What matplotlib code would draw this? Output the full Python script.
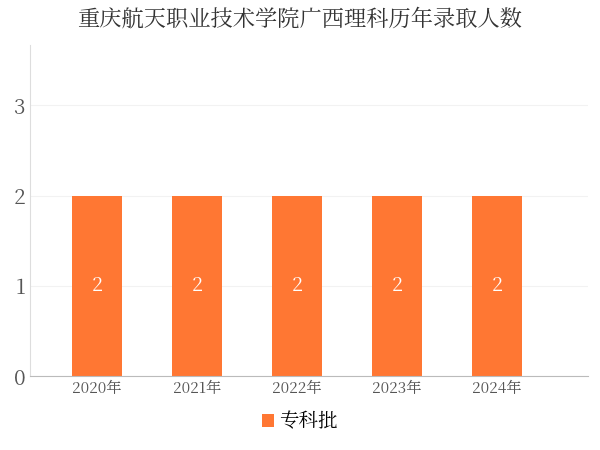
import matplotlib
matplotlib.use("Agg")
import matplotlib.pyplot as plt
from matplotlib import font_manager as fm

cjk = [f.name for f in fm.fontManager.ttflist if "CJK" in f.name]
pref = [n for n in cjk if "SC" in n] or cjk
plt.rcParams["font.family"] = "sans-serif"
plt.rcParams["font.sans-serif"] = (pref[:1] if pref else []) + ["Noto Sans CJK SC", "DejaVu Sans"]

categories = ["2020年", "2021年", "2022年", "2023年", "2024年"]
values = [2, 2, 2, 2, 2]
series_name = "专科批"
color = "#FF7733"

fig = plt.figure(figsize=(6, 4.5), dpi=100)
ax = fig.add_axes([0.05, 0.164, 0.93, 0.736])
x = list(range(len(categories)))
bars = ax.bar(x, values, width=0.5, color=color, label=series_name, zorder=2)
for xi, v in zip(x, values):
    ax.text(xi, v / 2, str(v), ha="center", va="center", color="white", fontsize=14, zorder=3)

ax.set_xlim(-0.67, 4.91)
ax.set_ylim(0, 3.67)
ax.set_yticks([0, 1, 2, 3])
ax.set_xticks(x)
ax.set_xticklabels(categories, fontsize=11, color="#555555")
ax.tick_params(axis="y", labelsize=15, colors="#555555", length=0)
ax.tick_params(axis="x", length=0)
ax.grid(axis="y", color="#f2f2f2", linewidth=0.8, zorder=0)
for s in ["top", "right"]:
    ax.spines[s].set_visible(False)
ax.spines["left"].set_color("#dddddd")
ax.spines["bottom"].set_color("#bbbbbb")

fig.suptitle("重庆航天职业技术学院广西理科历年录取人数", y=0.985, fontsize=16, color="#333333")
fig.legend(handles=[bars], labels=[series_name], loc="lower center", bbox_to_anchor=(0.5, 0.0),
           frameon=False, fontsize=14, handlelength=0.6, handleheight=0.6, handletextpad=0.3)
fig.savefig("out.png", dpi=100)
